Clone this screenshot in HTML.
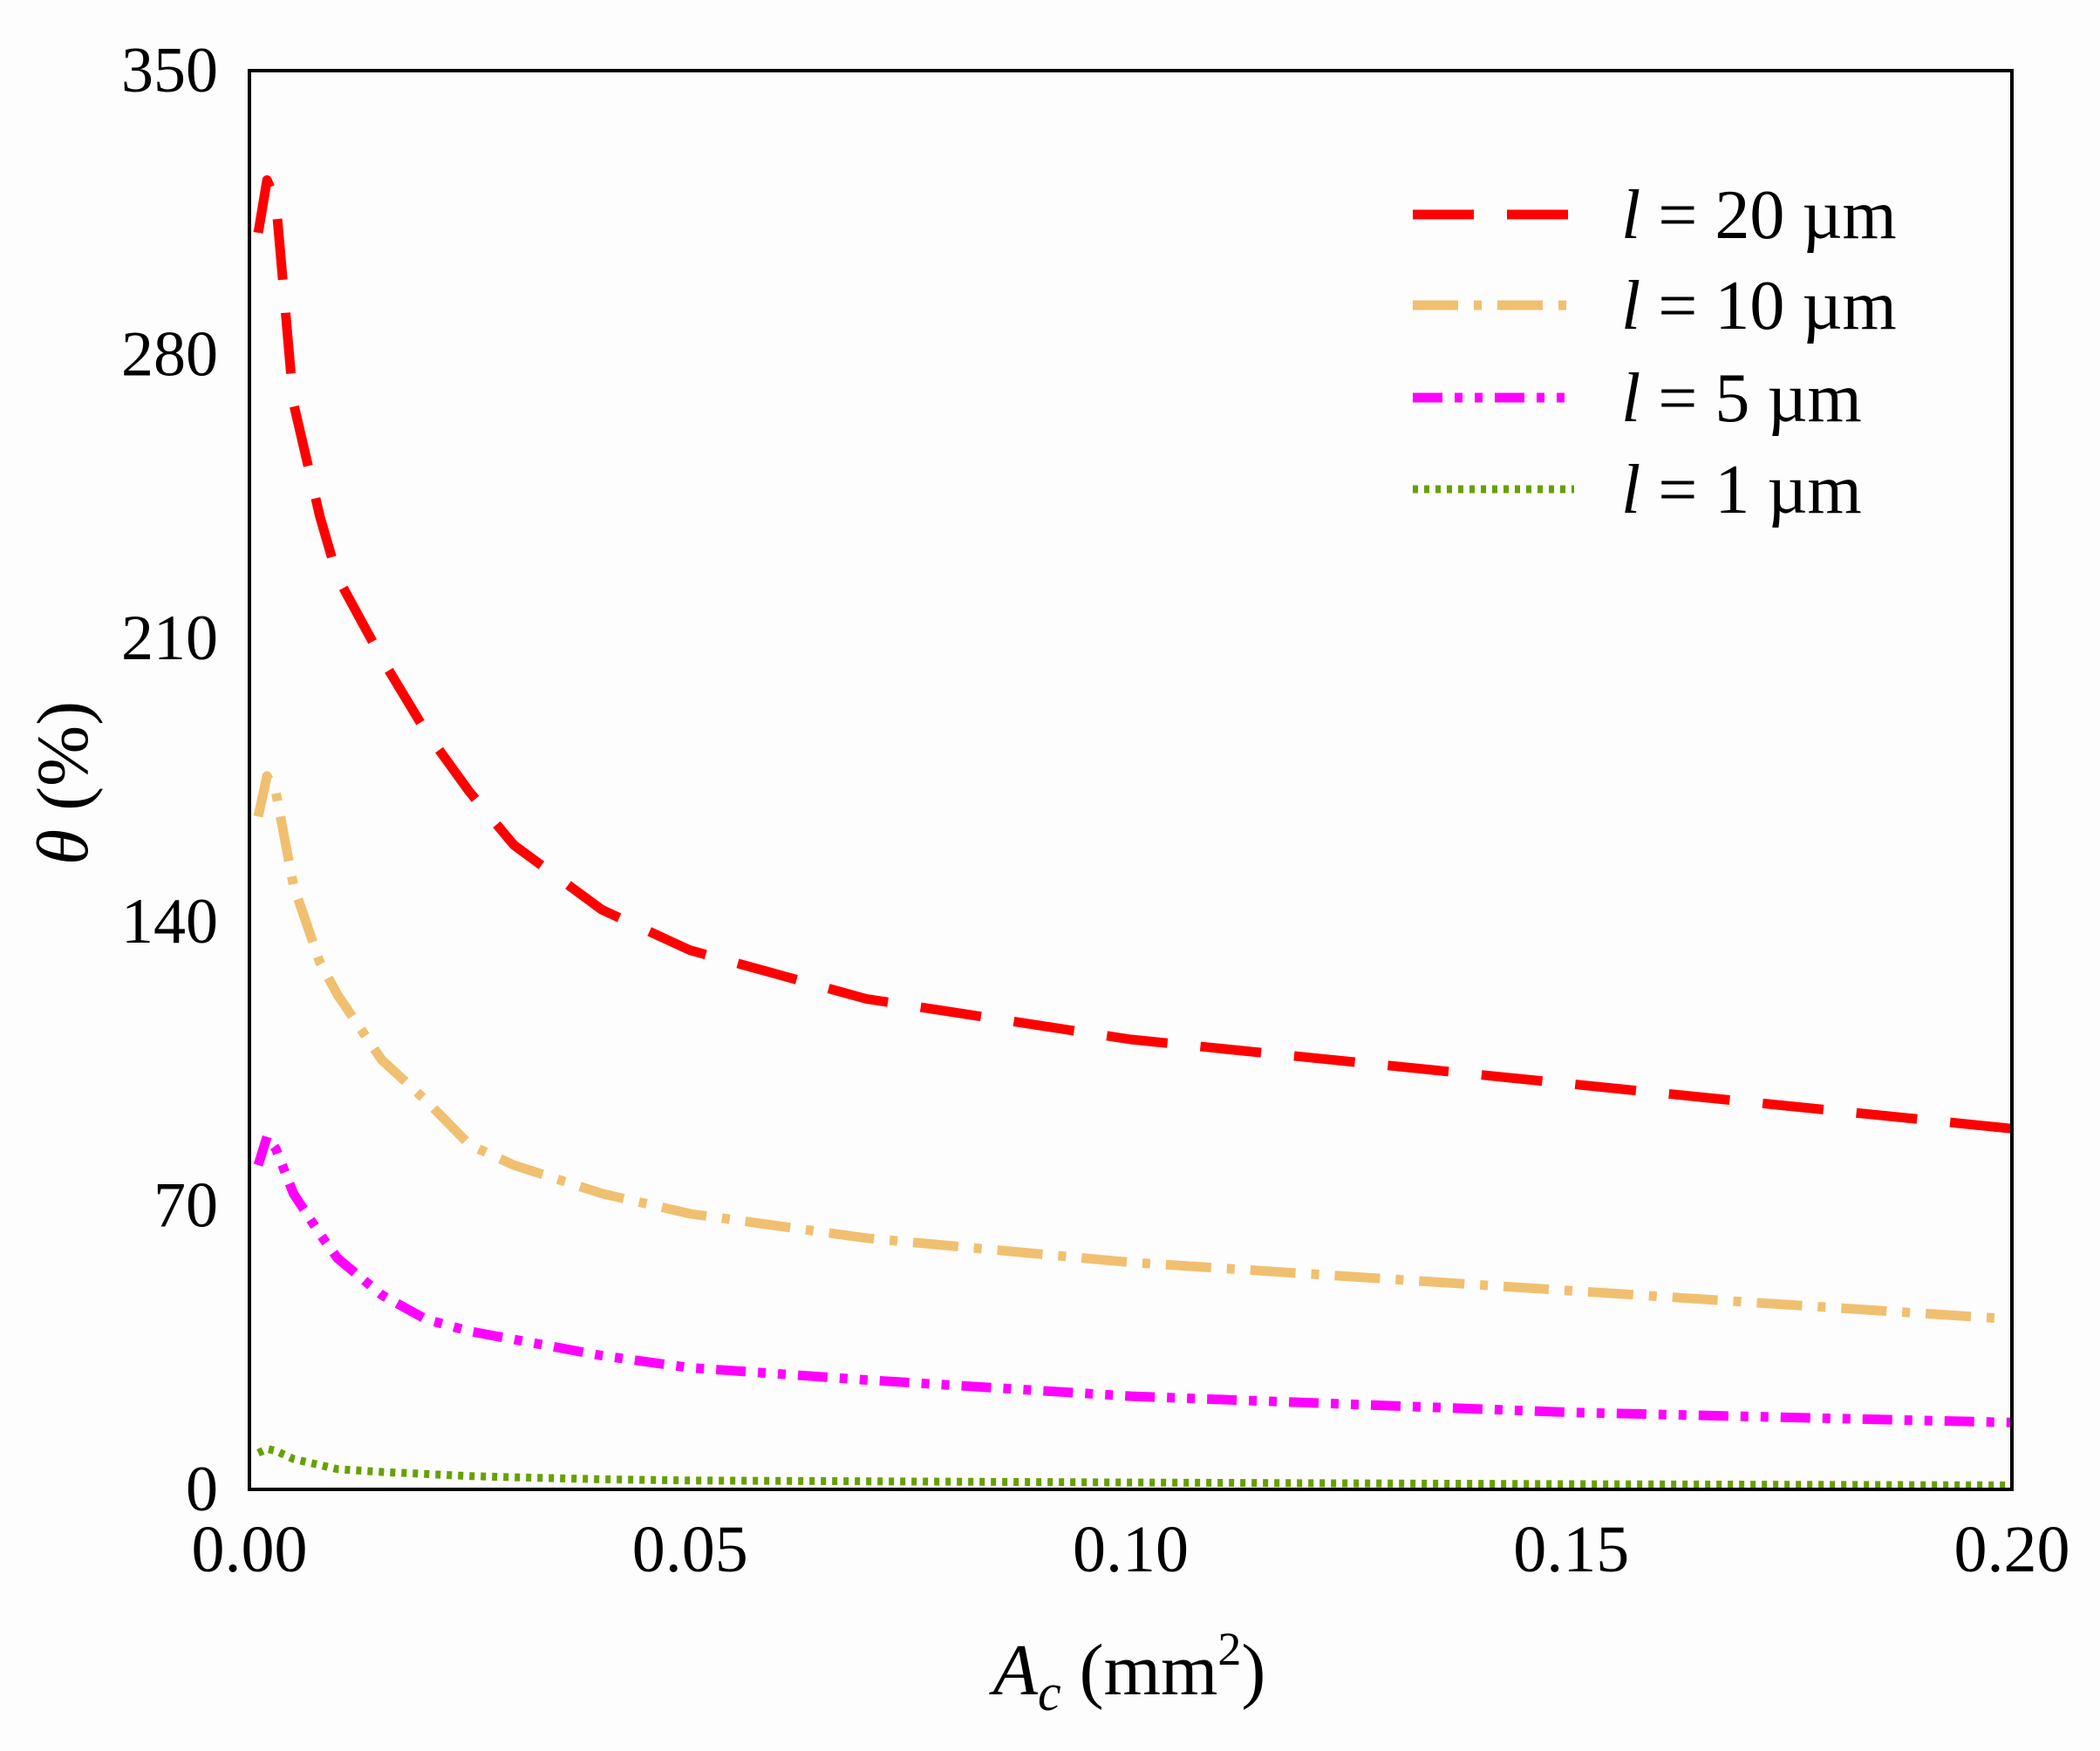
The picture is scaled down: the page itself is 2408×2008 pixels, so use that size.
<!DOCTYPE html>
<html><head><meta charset="utf-8"><style>
html,body{margin:0;padding:0;background:#fdfdfd;}
svg{display:block;font-family:"Liberation Serif",serif;}
</style></head><body>
<svg id="chart" width="2408" height="2008" viewBox="0 0 2408 2008" xmlns="http://www.w3.org/2000/svg">
<rect x="0" y="0" width="2408" height="2008" fill="#fdfdfd"/>
<g id="marks"></g>
<rect x="286" y="81" width="2021" height="1627" fill="none" stroke="#000" stroke-width="4"/>
<g id="yticks" font-size="74" text-anchor="end"></g>
<g id="xticks" font-size="76" text-anchor="middle"></g>
<text transform="translate(100,898) rotate(-90)" text-anchor="middle" font-size="84"><tspan font-style="italic">θ</tspan> (%)</text>
<text x="1295" y="1943" text-anchor="middle" font-size="84"><tspan font-style="italic">A</tspan><tspan font-style="italic" font-size="60" dy="18">c</tspan><tspan dy="-18"> (mm</tspan><tspan font-size="54" dy="-34">2</tspan><tspan dy="34">)</tspan></text>
<g id="legend" font-size="80"></g>
</svg>
<script>
const xValues = [0.001,0.002,0.003,0.005,0.008,0.01,0.015,0.02,0.025,0.03,0.04,0.05,0.07,0.1,0.15,0.2];
const red =     [310,323,318,268,240,225,205,187,172,159,143,133,121,111,100,89];
const tan =     [166,176,172,149,130,122,106,96,85,80,73,68,62,56,49,42];
const magenta = [80,87,84,73,63,57,48,42,39,37,33,30,27,23,19,16.5];
const green =   [9,10,9.5,7.5,6,5,4.3,3.8,3.3,3,2.5,2.2,2,1.7,1.3,1];
const seriesLabels = ["20","10","5","1"];
const yTicks = [0,70,140,210,280,350];
const xTicks = [0,0.05,0.10,0.15,0.20];
const xTickLabels = ["0.00","0.05","0.10","0.15","0.20"];

const L=286,R=2307,T=81,B=1708;
const xs = v => L + (v-0)/(0.2-0)*(R-L);
const ys = v => B - v/350*(B-T);
const NS="http://www.w3.org/2000/svg";
const styles=[
 {c:"#ff0000",d:"70 38",w:11},
 {c:"#f0c070",d:"52 18 9 18",w:11},
 {c:"#ff00ff",d:"34 14 9 14 9 14",w:11},
 {c:"#66a000",d:"6 7",w:9}];
const data=[red,tan,magenta,green];
const marks=document.getElementById('marks');
data.forEach((s,i)=>{
  const p=document.createElementNS(NS,'path');
  p.setAttribute('d', s.map((v,j)=>(j?'L':'M')+xs(xValues[j]).toFixed(1)+' '+ys(v).toFixed(1)).join(' '));
  p.setAttribute('fill','none');p.setAttribute('stroke',styles[i].c);
  p.setAttribute('stroke-width',styles[i].w);p.setAttribute('stroke-dasharray',styles[i].d);
  p.setAttribute('stroke-linejoin','round');
  
  
  marks.appendChild(p);
});
const yg=document.getElementById('yticks');
yTicks.forEach(v=>{
  const t=document.createElementNS(NS,'text');
  t.setAttribute('x',250);t.setAttribute('y',ys(v)+24);t.textContent=v;
  
  
  yg.appendChild(t);
});
const xg=document.getElementById('xticks');
xTicks.forEach((v,i)=>{
  const t=document.createElementNS(NS,'text');
  t.setAttribute('x',xs(v));t.setAttribute('y',1802);t.textContent=xTickLabels[i];
  
  
  xg.appendChild(t);
});
const lg=document.getElementById('legend');
const ly=[246,350,456,561];
seriesLabels.forEach((lab,i)=>{
  const ln=document.createElementNS(NS,'line');
  ln.setAttribute('x1',1620);ln.setAttribute('x2',1805);ln.setAttribute('y1',ly[i]);ln.setAttribute('y2',ly[i]);
  ln.setAttribute('stroke',styles[i].c);ln.setAttribute('stroke-width',styles[i].w);ln.setAttribute('stroke-dasharray',styles[i].d);
  
  
  lg.appendChild(ln);
  const t=document.createElementNS(NS,'text');
  t.setAttribute('x',1859);t.setAttribute('y',ly[i]+27);
  t.innerHTML='<tspan font-style="italic">l</tspan> = '+lab+' µm';
  
  
  lg.appendChild(t);
});
</script>
</body></html>
